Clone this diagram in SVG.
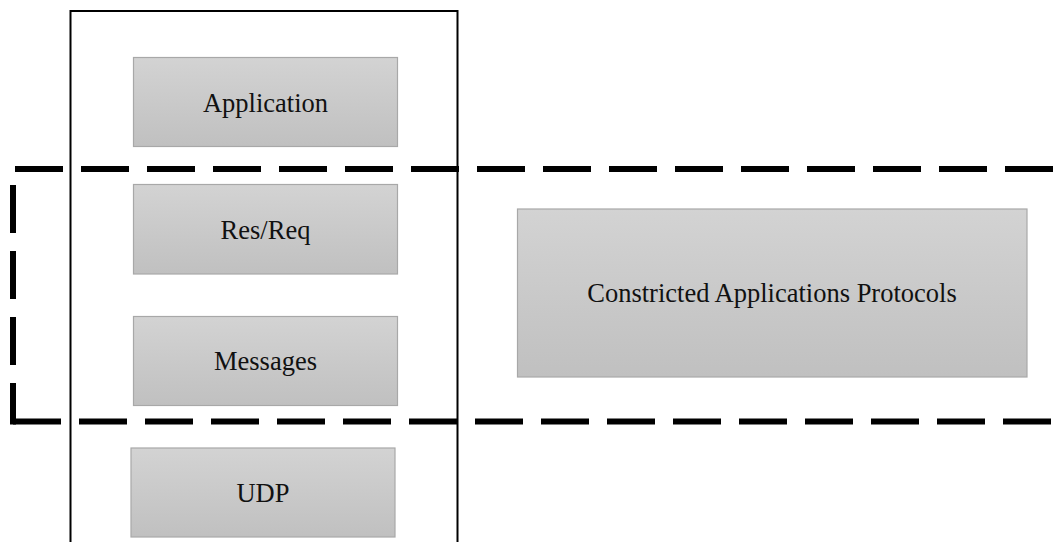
<svg xmlns="http://www.w3.org/2000/svg" width="1058" height="542" viewBox="0 0 1058 542">
<style>
.box{fill:url(#g);stroke:#a8a8a8;stroke-width:1.2}
.lbl{font-family:"Liberation Serif","Times New Roman",serif;font-size:26.5px;fill:#111;text-anchor:middle}
.dash{fill:none;stroke:#000;stroke-width:6;stroke-dasharray:48 18}
.frame{fill:none;stroke:#000;stroke-width:2}
</style>
<defs>
<linearGradient id="g" x1="0" y1="0" x2="0" y2="1">
<stop offset="0" stop-color="#d3d3d3"/>
<stop offset="1" stop-color="#c0c0c0"/>
</linearGradient>
</defs>
<rect width="1058" height="542" fill="#fff"/>
<g id="stack-frame">
<path class="frame" d="M70.5,542 V11 H457.5 V542"/>
</g>
<g id="application">
<rect class="box" x="133.5" y="57.5" width="264" height="89"/>
<text class="lbl" x="265.5" y="111.7">Application</text>
</g>
<g id="resreq">
<rect class="box" x="133.5" y="184.5" width="264" height="89.5"/>
<text class="lbl" x="265.5" y="239.3">Res/Req</text>
</g>
<g id="messages">
<rect class="box" x="133.5" y="316.5" width="264" height="89"/>
<text class="lbl" x="265.5" y="370">Messages</text>
</g>
<g id="udp">
<rect class="box" x="131" y="448" width="264" height="89"/>
<text class="lbl" x="263" y="502.3">UDP</text>
</g>
<g id="coap">
<rect class="box" x="517.5" y="209" width="509.5" height="168"/>
<text class="lbl" x="772" y="302.3">Constricted Applications Protocols</text>
</g>
<g id="connectors">
<line class="dash" x1="15" y1="169" x2="1053" y2="169"/>
<line class="dash" x1="13" y1="185" x2="13" y2="424.5"/>
<line class="dash" x1="13" y1="421.5" x2="1051" y2="421.5"/>
</g>
</svg>
